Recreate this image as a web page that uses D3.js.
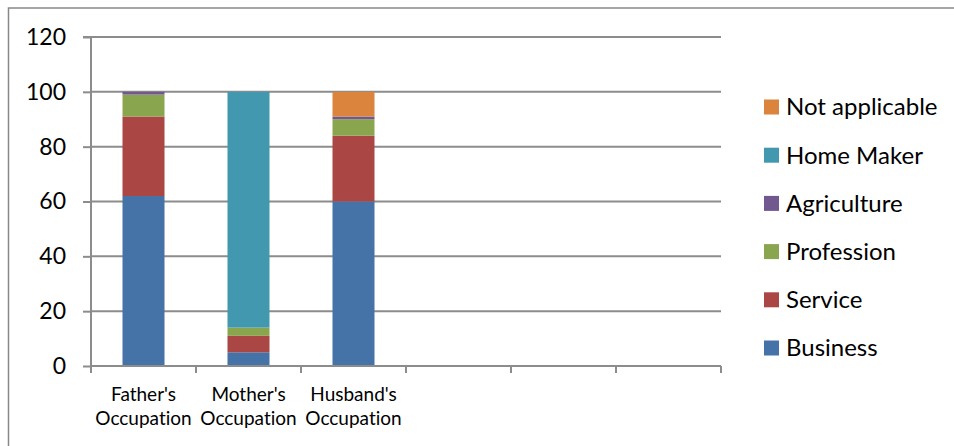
<!DOCTYPE html>
<html>
  <head>
    <title>Occupation</title>
    <script src="https://d3js.org/d3.v7.min.js"></script>
    <style>
      body { margin: 0; background: #fff; }
      text { font-family: Lato, "Open Sans", sans-serif; fill: #000; font-variant-ligatures: none; }
    </style>
  </head>
  <body>
    <script>
      var width = 954;
      var height = 446;
      var margin = {top: 37, left: 91, right: 233, bottom: 80};

      // data
      var categories = ["Father's Occupation", "Mother's Occupation", "Husband's Occupation", "", "", ""];
      var business      = [62, 5, 60, null, null, null];
      var service       = [29, 6, 24, null, null, null];
      var profession    = [8, 3, 6, null, null, null];
      var agriculture   = [1, 0, 1, null, null, null];
      var homeMaker     = [0, 86, 0, null, null, null];
      var notApplicable = [0, 0, 9, null, null, null];
      var yTicks = [0, 20, 40, 60, 80, 100, 120];

      var seriesNames = ["Business", "Service", "Profession", "Agriculture", "Home Maker", "Not applicable"];
      var seriesValues = [business, service, profession, agriculture, homeMaker, notApplicable];
      var colors = ["#4572A7", "#AA4643", "#89A54E", "#71588F", "#4198AF", "#DB843D"];

      var table = categories.map(function(c, i) {
        var row = {idx: i};
        seriesNames.forEach(function(s, j) { row[s] = seriesValues[j][i] || 0; });
        return row;
      });
      var stacked = d3.stack().keys(seriesNames)(table);

      var svg = d3.select("body")
        .append("svg")
        .attr("width", width)
        .attr("height", height);

      // outer chart border
      svg.append("rect")
        .attr("x", 8.5)
        .attr("y", 8)
        .attr("width", 1000)
        .attr("height", 500)
        .attr("fill", "none")
        .attr("stroke", "#888")
        .attr("stroke-width", 1.5);

      var xScale = d3.scaleBand()
        .domain(d3.range(categories.length))
        .range([margin.left, width - margin.right])
        .paddingInner(0.6)
        .paddingOuter(0.3);

      var yScale = d3.scaleLinear()
        .domain([0, 120])
        .range([height - margin.bottom, margin.top]);

      // gridlines
      svg.append("g")
        .selectAll("line")
        .data(yTicks.slice(1))
        .enter()
        .append("line")
          .attr("x1", margin.left)
          .attr("x2", width - margin.right)
          .attr("y1", function(d) { return yScale(d); })
          .attr("y2", function(d) { return yScale(d); })
          .attr("stroke", "#8c8c8c")
          .attr("stroke-width", 2);

      // bars
      svg.append("g")
        .selectAll("g")
        .data(stacked)
        .enter()
        .append("g")
          .attr("fill", function(d, i) { return colors[i]; })
        .selectAll("rect")
        .data(function(d) { return d; })
        .enter()
        .append("rect")
          .attr("x", function(d) { return xScale(d.data.idx); })
          .attr("y", function(d) { return yScale(d[1]); })
          .attr("width", xScale.bandwidth())
          .attr("height", function(d) { return yScale(d[0]) - yScale(d[1]); });

      // y axis
      var yAxis = svg.append("g")
        .attr("transform", `translate(${margin.left},0)`)
        .call(d3.axisLeft(yScale).tickValues(yTicks).tickSize(8).tickPadding(17));
      yAxis.selectAll("path, line").attr("stroke", "#8c8c8c").attr("stroke-width", 2);
      yAxis.select(".domain").attr("d", `M-8,${yScale(120)}H0V${yScale(0)}`);
      yAxis.selectAll("text")
        .style("font-size", "23px")
        .attr("fill", "#000");

      // x axis
      var step = xScale.step();
      var boundaries = d3.range(categories.length + 1);
      var xAxis = svg.append("g");
      xAxis.append("line")
        .attr("x1", margin.left)
        .attr("x2", width - margin.right)
        .attr("y1", yScale(0))
        .attr("y2", yScale(0))
        .attr("stroke", "#8c8c8c")
        .attr("stroke-width", 2);
      xAxis.selectAll(".xt")
        .data(boundaries)
        .enter()
        .append("line")
          .attr("class", "xt")
          .attr("x1", function(d) { return margin.left + d * step; })
          .attr("x2", function(d) { return margin.left + d * step; })
          .attr("y1", yScale(0))
          .attr("y2", yScale(0) + 7)
          .attr("stroke", "#8c8c8c")
          .attr("stroke-width", 2);

      var catLabels = xAxis.selectAll(".xl")
        .data(categories)
        .enter()
        .append("text")
          .attr("class", "xl")
          .attr("text-anchor", "middle")
          .style("font-size", "19px")
          .attr("transform", function(d, i) {
            return `translate(${xScale(i) + xScale.bandwidth() / 2},${yScale(0) + 35})`;
          });
      catLabels.each(function(d) {
        var words = d.split(" ");
        var t = d3.select(this);
        words.forEach(function(w, k) {
          t.append("tspan").attr("x", 0).attr("dy", k === 0 ? 0 : 24).text(w);
        });
      });

      // legend, top entry is last series
      var legend = svg.append("g")
        .attr("transform", "translate(764,107)");
      var legendItems = legend.selectAll("g")
        .data(seriesNames.slice().reverse())
        .enter()
        .append("g")
          .attr("transform", function(d, i) { return `translate(0,${i * 48.2})`; });
      legendItems.append("rect")
        .attr("x", 0)
        .attr("y", -7.5)
        .attr("width", 15)
        .attr("height", 15)
        .attr("fill", function(d) { return colors[seriesNames.indexOf(d)]; });
      legendItems.append("text")
        .attr("x", 22)
        .attr("dy", "0.35em")
        .style("font-size", "24px")
        .text(function(d) { return d; });
    </script>
  </body>
</html>
